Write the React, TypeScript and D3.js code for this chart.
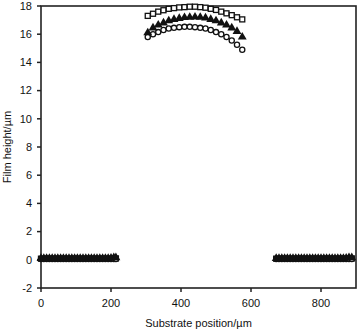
import React from 'react';
import * as d3 from 'd3';

// substrate positions (µm) for the film region
const filmX = [305, 320, 335, 350, 365, 380, 395, 410, 425, 440, 455, 470, 485, 500, 515, 530, 545, 560, 575];
const squareFilm = [17.3, 17.45, 17.6, 17.7, 17.8, 17.85, 17.9, 17.92, 17.95, 17.95, 17.92, 17.88, 17.8, 17.72, 17.6, 17.48, 17.35, 17.2, 17.05];
const triangleFilm = [16.1, 16.45, 16.65, 16.8, 16.95, 17.05, 17.12, 17.18, 17.2, 17.22, 17.2, 17.15, 17.05, 16.95, 16.8, 16.65, 16.45, 16.2, 15.8];
const circleFilm = [15.8, 16.0, 16.15, 16.3, 16.4, 16.45, 16.5, 16.52, 16.52, 16.5, 16.45, 16.4, 16.3, 16.15, 16.0, 15.8, 15.55, 15.25, 14.9];

// bare substrate on either side (measured densely)
const leftX = [0, 8, 16, 24, 32, 40, 48, 56, 64, 72, 80, 88, 96, 104, 112, 120, 128, 136, 144, 152, 160, 168, 176, 184, 192, 200, 208, 214];
const rightX = [672, 680, 688, 696, 704, 712, 720, 728, 736, 744, 752, 760, 768, 776, 784, 792, 800, 808, 816, 824, 832, 840, 848, 856, 864, 872, 880, 888];
const squareBase = [0.08, 0.08, 0.08, 0.08, 0.08, 0.08, 0.08, 0.08, 0.08, 0.08, 0.08, 0.08, 0.08, 0.08, 0.08, 0.08, 0.08, 0.08, 0.08, 0.08, 0.08, 0.08, 0.08, 0.08, 0.08, 0.08, 0.1, 0.1];
const triangleBase = [0.1, 0.1, 0.1, 0.1, 0.1, 0.1, 0.1, 0.1, 0.1, 0.1, 0.1, 0.1, 0.1, 0.1, 0.1, 0.1, 0.1, 0.1, 0.1, 0.1, 0.1, 0.1, 0.1, 0.1, 0.1, 0.12, 0.15, 0.15];
const circleBase = [0.05, 0.05, 0.05, 0.05, 0.05, 0.05, 0.05, 0.05, 0.05, 0.05, 0.05, 0.05, 0.05, 0.05, 0.05, 0.05, 0.05, 0.05, 0.05, 0.05, 0.05, 0.05, 0.05, 0.05, 0.05, 0.05, 0.05, 0.05];

const xTicks = [0, 200, 400, 600, 800];
const yTicks = [-2, 0, 2, 4, 6, 8, 10, 12, 14, 16, 18];

const W = 360;
const H = 333;
const margin = { left: 41, right: 4, top: 6, bottom: 45 };

const App = () => {
  const x = d3.scaleLinear().domain([0, 900]).range([margin.left, W - margin.right]);
  const y = d3.scaleLinear().domain([-2, 18]).range([H - margin.bottom, margin.top]);

  const zip = (xs: number[], ys: number[]) => xs.map((v, i) => [v, ys[i]] as [number, number]);

  const squares = [...zip(filmX, squareFilm), ...zip(leftX, squareBase), ...zip(rightX, squareBase)];
  const triangles = [...zip(filmX, triangleFilm), ...zip(leftX, triangleBase), ...zip(rightX, triangleBase)];
  const circles = [...zip(filmX, circleFilm), ...zip(leftX, circleBase), ...zip(rightX, circleBase)];

  const tri = d3.symbol(d3.symbolTriangle, 34)();
  const font = 'Liberation Sans, Arial, sans-serif';
  const ink = '#111';

  return (
    <svg width={W} height={H} style={{ position: 'absolute', left: 0, top: 0, background: '#fff' }}>
      <rect x={margin.left} y={margin.top} width={W - margin.right - margin.left} height={H - margin.bottom - margin.top}
        fill="none" stroke="#222" strokeWidth={1.6} />
      {yTicks.map(t => (
        <g key={t}>
          <line x1={margin.left - 4} x2={margin.left} y1={y(t)} y2={y(t)} stroke="#222" strokeWidth={1.5} />
          <text x={margin.left - 9} y={y(t)} dy="0.35em" textAnchor="end" fontSize={11} fontFamily={font} fill={ink}>{t}</text>
        </g>
      ))}
      {xTicks.map(t => (
        <g key={t}>
          <line x1={x(t)} x2={x(t)} y1={H - margin.bottom} y2={H - margin.bottom + 4} stroke="#222" strokeWidth={1.5} />
          <text x={x(t)} y={H - margin.bottom + 19} textAnchor="middle" fontSize={11} fontFamily={font} fill={ink}>{t}</text>
        </g>
      ))}
      <text x={(margin.left + W - margin.right) / 2} y={H - 6} textAnchor="middle" fontSize={11} fontFamily={font} fill={ink}>
        Substrate position/µm
      </text>
      <text transform={`translate(11,${(margin.top + H - margin.bottom) / 2}) rotate(-90)`} textAnchor="middle"
        fontSize={11} fontFamily={font} fill={ink}>Film height/µm</text>

      {squares.map((d, i) => (
        <rect key={'s' + i} x={x(d[0]) - 2.5} y={y(d[1]) - 2.5} width={5} height={5} fill="#fff" stroke={ink} strokeWidth={1.3} />
      ))}
      {circles.map((d, i) => (
        <circle key={'c' + i} cx={x(d[0])} cy={y(d[1])} r={2.6} fill="#fff" stroke={ink} strokeWidth={1.3} />
      ))}
      {triangles.map((d, i) => (
        <path key={'t' + i} d={tri!} transform={`translate(${x(d[0])},${y(d[1])})`} fill={ink} />
      ))}
    </svg>
  );
};

export default App;
